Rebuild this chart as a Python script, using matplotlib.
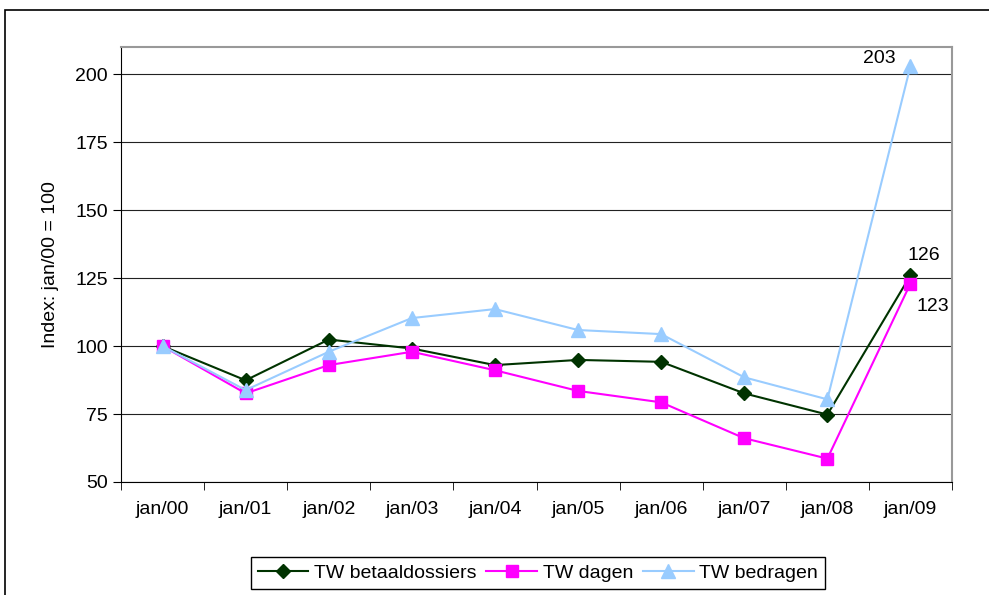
import numpy as np
import matplotlib.pyplot as plt
from matplotlib.patches import Rectangle

plt.rcParams['font.family'] = ['Liberation Sans', 'DejaVu Sans']

maanden = ["jan/00", "jan/01", "jan/02", "jan/03", "jan/04",
           "jan/05", "jan/06", "jan/07", "jan/08", "jan/09"]
betaaldossiers = [100, 87.4, 102.4, 99.1, 93.0, 94.9, 94.2, 82.6, 74.8, 126]
dagen = [100, 82.6, 93.0, 97.9, 91.1, 83.5, 79.3, 66.1, 58.6, 123]
bedragen = [100, 83.8, 97.9, 110.3, 113.6, 105.9, 104.4, 88.5, 80.4, 203]

fs = 14

fig = plt.figure(figsize=(9.89, 5.95), dpi=100)
fig.patches.append(Rectangle((5 / 989, -0.1), 1.1, (595 - 10) / 595 + 0.1,
                             transform=fig.transFigure, fill=False,
                             edgecolor='black', linewidth=1.2))
ax = fig.add_axes([121 / 989, 1 - 482 / 595, (952 - 121) / 989, (482 - 47) / 595])

x = np.arange(len(maanden))
ax.plot(x, betaaldossiers, color='#003300', marker='D', markersize=7,
        linewidth=1.5, label='TW betaaldossiers')
ax.plot(x, dagen, color='#ff00ff', marker='s', markersize=8,
        linewidth=1.5, label='TW dagen')
ax.plot(x, bedragen, color='#99ccff', marker='^', markersize=10,
        linewidth=1.5, label='TW bedragen')

ax.set_xlim(-0.5, len(maanden) - 0.5)
ax.set_ylim(50, 210)
ax.set_yticks(range(50, 201, 25))
ax.yaxis.grid(True, color='#222222', linewidth=0.8)
ax.set_axisbelow(True)

ax.set_xticks(x)
ax.set_xticklabels(maanden)
ax.set_xticks(np.arange(-0.5, len(maanden)), minor=True)
ax.tick_params(axis='x', which='major', length=0, pad=14, labelsize=fs)
ax.tick_params(axis='x', which='minor', length=6, direction='out')
ax.tick_params(axis='y', length=6, direction='out', labelsize=fs)

for side in ('top', 'right'):
    ax.spines[side].set_color('#999999')
    ax.spines[side].set_linewidth(1.5)

ax.set_ylabel('Index: jan/00 = 100', fontsize=fs, labelpad=12)

# waarden bij het laatste punt
ax.annotate(f"{bedragen[-1]:.0f}", (x[-1], bedragen[-1]), xytext=(-34, 2),
            textcoords='offset points', fontsize=fs)
ax.annotate(f"{betaaldossiers[-1]:.0f}", (x[-1], betaaldossiers[-1]), xytext=(-2, 11),
            textcoords='offset points', fontsize=fs)
ax.annotate(f"{dagen[-1]:.0f}", (x[-1], dagen[-1]), xytext=(4, -20),
            textcoords='offset points', fontsize=fs)

fig.legend(loc='center', bbox_to_anchor=(538 / 989, 1 - 573 / 595), ncol=3,
           fontsize=fs, frameon=True, fancybox=False, edgecolor='black',
           handlelength=2.6, handletextpad=0.3, columnspacing=0.5,
           borderpad=0.35, framealpha=1)

fig.savefig('out.png', dpi=100)
